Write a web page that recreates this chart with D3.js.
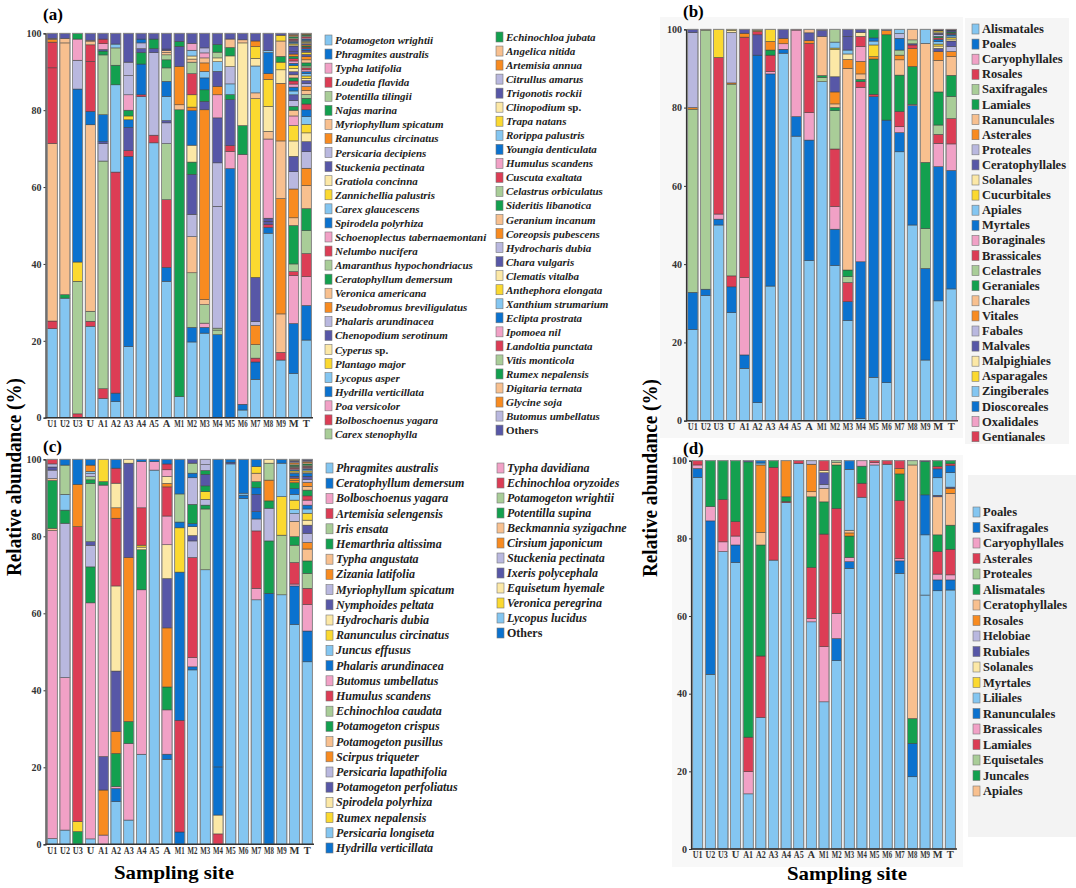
<!DOCTYPE html>
<html>
<head>
<meta charset="utf-8">
<script src="https://cdn.jsdelivr.net/npm/d3@7"></script>
<style>
  body { margin: 0; background: #fff; }
  svg { display: block; font-family: "Liberation Serif", "Times New Roman", serif; }
</style>
</head>
<body>
<div id="vis"></div>
<script>
const WIDTH = 1076;
const HEIGHT = 888;

// ---- data ----
const SITES = ["U1","U2","U3","U","A1","A2","A3","A4","A5","A","M1","M2","M3","M4","M5","M6","M7","M8","M9","M","T"];

const SPECIES_A = ["Potamogeton wrightii","Phragmites australis","Typha latifolia","Loudetia flavida","Potentilla tilingii",
  "Najas marina","Myriophyllum spicatum","Ranunculus circinatus","Persicaria decipiens","Stuckenia pectinata",
  "Gratiola concinna","Zannichellia palustris","Carex glaucescens","Spirodela polyrhiza","Schoenoplectus tabernaemontani",
  "Nelumbo nucifera","Amaranthus hypochondriacus","Ceratophyllum demersum","Veronica americana","Pseudobromus breviligulatus",
  "Phalaris arundinacea","Chenopodium serotinum","Cyperus sp.","Plantago major","Lycopus asper",
  "Hydrilla verticillata","Poa versicolor","Bolboschoenus yagara","Carex stenophylla",
  "Echinochloa jubata","Angelica nitida","Artemisia annua","Citrullus amarus","Trigonotis rockii",
  "Clinopodium sp.","Trapa natans","Rorippa palustris","Youngia denticulata","Humulus scandens",
  "Cuscuta exaltata","Celastrus orbiculatus","Sideritis libanotica","Geranium incanum","Coreopsis pubescens",
  "Hydrocharis dubia","Chara vulgaris","Clematis vitalba","Anthephora elongata","Xanthium strumarium",
  "Eclipta prostrata","Ipomoea nil","Landoltia punctata","Vitis monticola","Rumex nepalensis",
  "Digitaria ternata","Glycine soja","Butomus umbellatus","Others"];

const ORDERS_B = ["Alismatales","Poales","Caryophyllales","Rosales","Saxifragales","Lamiales","Ranunculales",
  "Asterales","Proteales","Ceratophyllales","Solanales","Cucurbitales","Apiales","Myrtales","Boraginales",
  "Brassicales","Celastrales","Geraniales","Charales","Vitales","Fabales","Malvales","Malpighiales",
  "Asparagales","Zingiberales","Dioscoreales","Oxalidales","Gentianales"];

const SPECIES_C = ["Phragmites australis","Ceratophyllum demersum","Bolboschoenus yagara","Artemisia selengensis",
  "Iris ensata","Hemarthria altissima","Typha angustata","Zizania latifolia","Myriophyllum spicatum",
  "Nymphoides peltata","Hydrocharis dubia","Ranunculus circinatus","Juncus effusus","Phalaris arundinacea",
  "Butomus umbellatus","Humulus scandens","Echinochloa caudata","Potamogeton crispus","Potamogeton  pusillus",
  "Scirpus triqueter","Persicaria lapathifolia","Potamogeton perfoliatus","Spirodela polyrhiza","Rumex nepalensis",
  "Persicaria longiseta","Hydrilla verticillata",
  "Typha davidiana","Echinochloa oryzoides","Potamogeton wrightii","Potentilla supina","Beckmannia syzigachne",
  "Cirsium japonicum","Stuckenia pectinata","Ixeris polycephala","Equisetum hyemale","Veronica peregrina",
  "Lycopus lucidus","Others"];

const ORDERS_D = ["Poales","Saxifragales","Caryophyllales","Asterales","Proteales","Alismatales","Ceratophyllales",
  "Rosales","Helobiae","Rubiales","Solanales","Myrtales","Liliales","Ranunculales","Brassicales","Lamiales",
  "Equisetales","Juncales","Apiales"];

// per site, bottom to top: [category index, relative abundance %]
const BARS_A = [
  [[0,23.2],[3,2],[6,46.3],[15,19.7],[27,6.7],[31,0.7],[42,0.3],[57,1.3]],
  [[0,31.1],[5,0.9],[6,65.5],[30,1.2],[57,1.3]],
  [[3,1],[4,34.5],[11,5],[13,45],[20,7.5],[14,5.5],[29,1.5]],
  [[0,23.8],[3,1.3],[4,2.6],[6,48.5],[13,3.5],[15,13],[27,4.3],[30,0.8],[54,0.4],[57,1.8]],
  [[0,5],[3,2.5],[4,59],[8,4.5],[9,0.5],[13,7],[16,15.5],[17,1],[33,0.4],[26,1.5],[39,1.2],[57,1.5]],
  [[0,4.2],[1,2.2],[3,57.5],[12,22.7],[17,5.1],[28,4.5],[36,1],[57,2.8]],
  [[0,18.5],[1,49.5],[3,1.5],[9,6],[13,2],[11,1],[17,1.5],[14,4],[20,5],[32,3.5],[57,7.5]],
  [[0,83.5],[3,0.5],[13,8],[17,3],[21,1],[32,1.5],[37,1],[57,1.5]],
  [[0,71.5],[3,2],[8,21.5],[9,1],[17,2.5],[57,1.5]],
  [[0,35.5],[1,3.6],[3,17.6],[4,14.6],[8,5.4],[9,0.6],[12,6.3],[13,3.9],[16,3.5],[17,2.1],[28,1.3],[30,0.6],[42,0.5],[45,0.4],[57,4.1]],
  [[0,5.5],[5,74.6],[6,1.3],[7,10],[9,5.2],[17,1.3],[57,2.1]],
  [[0,19.7],[1,3.8],[4,14.2],[6,9.4],[8,5.8],[9,10.4],[17,3.2],[10,4.4],[13,9],[7,0.9],[11,3.2],[15,5.5],[16,3],[18,0.8],[22,0.8],[24,1.5],[26,1.8],[57,2.6]],
  [[0,22],[1,1.5],[2,1.1],[4,4.8],[6,1.3],[7,49.4],[9,2.2],[17,3],[13,3.1],[12,1.7],[19,2.2],[18,1.3],[26,1.3],[20,1.3],[57,3.8]],
  [[1,21.6],[4,1.2],[16,0.5],[8,31.7],[20,11.3],[9,11.7],[14,6],[7,2.2],[21,3.9],[12,2.5],[22,1],[28,1.5],[29,2],[57,2.9]],
  [[1,65],[2,4.5],[3,1.5],[9,12],[5,1.3],[12,2.8],[20,4.5],[10,2.8],[17,2.2],[30,2.2],[57,1.5]],
  [[0,2],[1,1.5],[14,65],[17,7.5],[22,21.5],[30,0.8],[57,1.7]],
  [[0,10],[1,4.5],[3,1],[4,3.5],[7,5],[8,1],[9,11.5],[11,46.5],[18,1.5],[12,7],[10,2],[23,3],[19,1.5],[57,2]],
  [[0,48],[1,1.5],[3,0.8],[9,0.8],[21,0.8],[2,20.6],[6,2],[10,6.5],[11,7],[7,1.5],[13,5.5],[24,0.5],[57,4.5]],
  [[0,15],[3,2],[6,10],[7,30],[18,15],[19,15],[10,3.5],[11,2],[17,1.5],[30,4],[23,1.5],[57,0.5]],
  [[0,11.5],[1,13],[2,12.5],[3,1],[4,2],[5,10],[6,2],[7,7.5],[8,4.5],[9,4],[10,4],[11,4],[14,2.5],[18,1.5],[17,1],[20,1.5],[21,1.5],[24,1],[25,1],[26,0.8],[27,0.8],[29,0.8],[30,0.8],[33,0.8],[34,0.8],[35,0.8],[37,0.6],[38,0.6],[39,0.6],[41,0.6],[43,0.6],[45,0.6],[57,1.5],[46,0.3],[47,0.3],[48,0.3],[49,0.3],[50,0.3],[51,0.3],[52,0.3],[53,0.3],[54,0.3],[55,0.3],[56,0.3]],
  [[0,20.2],[1,9],[2,7.5],[3,6],[4,6],[5,5.7],[6,6],[7,4.5],[8,4.3],[9,2.6],[10,2.3],[11,2.2],[12,2],[13,1.8],[15,1.5],[17,1.5],[16,1],[18,1],[19,1],[20,0.8],[21,0.8],[22,0.6],[23,0.6],[24,0.6],[25,0.5],[26,0.5],[27,0.5],[28,0.5],[29,0.8],[30,0.8],[31,0.8],[33,0.6],[35,0.6],[57,0.5],[37,0.4],[39,0.4],[41,0.3],[43,0.3],[45,0.3],[46,0.3],[47,0.3],[48,0.3],[49,0.3],[50,0.3],[51,0.3],[52,0.3],[53,0.3],[55,0.3]]
];

const BARS_B = [
  [[0,23.3],[1,9.5],[4,46.8],[7,0.4],[8,19.2],[21,0.8]],
  [[0,32],[1,1.6],[4,66.2],[6,0.2]],
  [[0,50],[1,1.5],[2,1.3],[3,40],[11,7.2]],
  [[0,27.6],[1,6.6],[3,2.8],[4,49],[7,0.3],[8,12.9],[10,0.5],[11,0.3]],
  [[0,13.4],[1,3.4],[2,19.8],[3,61.4],[7,1],[9,1]],
  [[0,4.6],[1,88.8],[9,5.2],[15,0.8],[7,0.3],[10,0.3]],
  [[0,34.4],[1,54.2],[2,0.6],[3,4.2],[5,1.3],[7,2.2],[11,3.1]],
  [[0,93.9],[1,1],[2,1.4],[7,1.4],[9,2.3]],
  [[0,72.7],[1,5],[2,22.1],[3,0.2]],
  [[0,40.9],[1,30.8],[2,7],[3,17.7],[7,0.7],[9,2],[18,0.9]],
  [[0,86.6],[4,1.1],[5,0.5],[6,10],[9,1.5],[20,0.3]],
  [[0,38.9],[1,9.1],[2,5.7],[3,14.4],[4,9.6],[5,0.8],[6,0.9],[7,3],[9,3.8],[10,6.8],[11,0.4],[12,1.5],[16,3.2]],
  [[0,25.6],[1,4.8],[3,4.9],[4,1.5],[5,1.7],[6,51.5],[7,2.3],[10,1.4],[12,1],[9,3.5],[21,1.8]],
  [[0,0.5],[1,40.1],[2,44.6],[3,1.4],[5,0.6],[6,1.4],[7,3.2],[14,3.8],[15,2.6],[22,1],[21,0.8]],
  [[0,11.1],[1,71.7],[3,0.6],[5,9],[7,0.6],[11,3],[12,1],[13,0.8],[17,2.2]],
  [[0,9.7],[1,67.1],[5,21.8],[7,1.1],[20,0.3]],
  [[0,68.7],[1,4.9],[2,1.5],[3,3.9],[5,9.3],[6,3.9],[7,1.2],[16,1.3],[13,3],[20,1.2],[24,1.1]],
  [[0,50],[1,30.5],[2,0.3],[5,9.7],[7,4.6],[15,0.9],[21,0.3],[16,1],[18,2.7]],
  [[0,15.5],[1,23.4],[4,10.2],[5,16.9],[6,30.4],[12,3.6]],
  [[0,30.8],[1,34.5],[2,6],[3,2.3],[4,2.4],[5,8.5],[6,8.1],[7,2.3],[9,0.8],[10,0.6],[11,0.5],[12,0.6],[13,0.6],[15,0.4],[17,0.4],[20,0.4],[21,0.4],[22,0.3],[23,0.3],[25,0.2],[27,0.2]],
  [[0,33.8],[1,30.4],[2,6.8],[3,6.5],[4,5.7],[5,5.4],[6,4.8],[7,1.3],[8,1.3],[9,1.4],[10,0.5],[11,0.4],[12,0.4],[13,0.4],[15,0.3],[17,0.3],[21,0.3],[25,0.2],[27,0.2]]
];

const BARS_C = [
  [[0,1.5],[2,80],[6,0.6],[5,12.4],[18,0.5],[8,2.2],[9,0.8],[20,0.8],[3,1.2]],
  [[0,3.7],[2,39.6],[8,40.1],[5,3.4],[12,4.1],[4,7.6],[1,1.5]],
  [[5,3.3],[11,2.6],[3,76.6],[7,11],[13,6.5]],
  [[0,1.4],[2,61],[5,9.3],[8,5.6],[9,0.9],[4,15.1],[17,0.9],[16,0.8],[20,0.8],[12,0.6],[7,1.6],[1,1.5]],
  [[2,2.4],[7,11.7],[9,8.7],[14,70.5],[5,0.9],[11,5.8]],
  [[0,11.1],[1,3.4],[2,0.5],[5,8.6],[7,5.7],[9,15.7],[10,22.1],[3,17.6],[19,2.7],[22,6.4],[15,3.9],[13,2.3]],
  [[0,6.3],[2,19.9],[5,5.7],[7,42.6],[9,24.5],[10,1]],
  [[0,23.4],[2,42.7],[5,10.4],[10,0.7],[11,0.5],[3,9.7],[14,12],[1,0.6]],
  [[0,97.2],[2,2.2],[1,0.6]],
  [[0,21.9],[1,1.3],[2,11.4],[5,5.9],[7,15.2],[9,12.7],[10,8.7],[14,7.4],[15,7.5],[19,0.9],[22,1.8],[26,1.7],[27,1.5],[13,1.2]],
  [[1,3.2],[3,29],[13,38.5],[11,11.5],[25,1.5],[4,7.3],[37,9]],
  [[0,45.3],[1,0.8],[2,2.4],[3,26],[8,4.3],[9,1.4],[10,2.3],[13,0.8],[5,5],[20,6.9],[25,1.2],[4,2.6],[21,1]],
  [[0,71.3],[4,15.8],[5,1],[8,1.5],[11,2],[17,1.5],[9,3],[29,1],[20,1.5],[32,1.4]],
  [[3,2.7],[10,4.9],[13,12.5],[25,79.9]],
  [[0,98.8],[9,0.4],[1,0.8]],
  [[0,89.8],[1,0.9],[12,0.5],[13,8.8]],
  [[0,63.5],[2,3],[3,14.9],[8,3.1],[13,1.9],[9,4.5],[25,1.7],[5,1.6],[6,2.2],[11,1.7],[37,1.9]],
  [[1,65.2],[5,13.6],[8,8.5],[17,1.9],[7,5.4],[4,4.4],[10,1]],
  [[0,64.8],[4,15.5],[11,10],[12,8.7],[1,1]],
  [[0,57.1],[1,10],[2,0.5],[3,5.6],[4,4.5],[5,2.2],[6,4],[8,2],[12,1],[11,2.5],[24,1.5],[13,1.5],[17,1.5],[7,0.6],[19,0.6],[21,0.5],[37,0.8],[22,0.3],[23,0.3],[25,0.3],[26,0.3],[27,0.3],[28,0.3],[29,0.3],[30,0.3],[31,0.3],[32,0.3],[33,0.3],[34,0.3]],
  [[0,47.4],[1,8],[2,6.9],[3,4.2],[4,3.9],[5,3.2],[6,3.1],[7,1.7],[8,2.4],[9,2.1],[10,1.3],[11,1.8],[12,1.1],[13,1],[14,1.3],[15,1.1],[17,1.5],[18,1],[19,1],[20,0.8],[21,0.8],[37,0.8],[22,0.3],[23,0.3],[24,0.3],[25,0.3],[26,0.3],[27,0.3],[28,0.3],[29,0.3],[30,0.3],[31,0.3],[32,0.3],[33,0.3]]
];

const BARS_D = [
  [[0,95.7],[1,2.3],[2,0.9],[3,1.1]],
  [[0,45],[1,39.5],[2,3.7],[5,11.8]],
  [[0,76.6],[2,2.5],[3,10.9],[5,10]],
  [[0,73.8],[1,4.5],[2,2.3],[3,3.7],[5,15.7]],
  [[0,14.2],[2,5.7],[3,8.9],[5,70.9],[9,0.3]],
  [[0,33.9],[3,15.8],[5,28.6],[6,3.2],[7,17.4],[12,0.5],[13,0.6]],
  [[0,74.4],[3,23.9],[5,1.7]],
  [[0,89.2],[3,0.3],[5,1.2],[7,9.3]],
  [[0,99.3],[3,0.7]],
  [[0,58.5],[2,0.9],[3,13.1],[5,18.2],[6,1.3],[7,7.1],[8,0.9]],
  [[0,37.9],[2,14.2],[3,29],[5,8.3],[6,3.5],[8,1],[9,3],[10,0.6],[15,2.5]],
  [[0,48.5],[1,5.7],[2,6.5],[3,27],[5,11.2],[6,0.6],[4,0.5]],
  [[0,72.3],[1,1.7],[2,1.1],[5,5.5],[7,0.8],[6,0.7],[12,15.7],[13,2.2]],
  [[0,90.6],[3,3.6],[5,4.4],[2,1.4]],
  [[0,98.9],[2,0.6],[15,0.5]],
  [[0,99.1],[3,0.9]],
  [[0,71],[1,3.2],[2,0.6],[3,14.9],[5,6.9],[7,1.4],[15,2]],
  [[0,18.6],[1,8.6],[5,6.4],[6,65.3],[4,1.1]],
  [[0,65.4],[12,15.5],[13,10.3],[17,8.6],[9,0.2]],
  [[0,66.5],[1,2.8],[2,1.5],[3,5.8],[5,4.3],[6,9.8],[9,0.4],[12,4.5],[13,2.3],[15,0.6],[17,1.5]],
  [[0,66.7],[1,2.6],[2,1.3],[3,6.6],[5,6.2],[6,8.2],[7,1.3],[9,0.3],[12,3.7],[13,1.8],[15,0.5],[17,0.8]]
];

const Y_TICKS = [0, 20, 40, 60, 80, 100];

// 12-colour cycle used by all four panels
const COLORS = ["#84c6f1","#0b72cf","#f1a1c6","#dc3d55","#a9cd98","#13a04f",
                "#f8c08f","#f88b20","#b9b8df","#5757a7","#fce8a6","#fbd930"];

const FONT = '"Liberation Serif", "Times New Roman", serif';

const FRAME = d3.select("#vis")
  .append("svg")
    .attr("width", WIDTH)
    .attr("height", HEIGHT);

FRAME.append("rect").attr("width", WIDTH).attr("height", HEIGHT).attr("fill", "#fff");

// faint grey panels behind (b) and (d)
FRAME.append("rect").attr("x", 660).attr("y", 17).attr("width", 303).attr("height", 421).attr("fill", "#f7f7f7");
FRAME.append("rect").attr("x", 965).attr("y", 18).attr("width", 104).attr("height", 426).attr("fill", "#f5f5f5");
FRAME.append("rect").attr("x", 672).attr("y", 455).attr("width", 291).attr("height", 412).attr("fill", "#f8f8f8");
FRAME.append("rect").attr("x", 968).attr("y", 475).attr("width", 108).attr("height", 362).attr("fill", "#f3f3f3");

function drawPanel(p, bars) {
  const X_SCALE = d3.scaleBand()
    .domain(SITES)
    .range([p.x0, p.x1])
    .paddingInner(0.2)
    .paddingOuter(0.05);

  const Y_SCALE = d3.scaleLinear()
    .domain([0, 100])
    .range([p.yBot, p.yTop]);

  const g = FRAME.append("g");

  SITES.forEach((site, i) => {
    const segs = bars[i];
    const total = d3.sum(segs, (d) => d[1]);
    const vals = segs.map((d) => d[1] * 100 / total);
    const tops = Array.from(d3.cumsum(vals));
    const rows = segs.map((d, j) => ({cat: d[0], y0: tops[j] - vals[j], y1: tops[j]}));

    g.selectAll(null)
      .data(rows)
      .enter()
      .append("rect")
        .attr("x", X_SCALE(site))
        .attr("width", X_SCALE.bandwidth())
        .attr("y", (d) => Y_SCALE(d.y1))
        .attr("height", (d) => Y_SCALE(d.y0) - Y_SCALE(d.y1))
        .attr("fill", (d) => COLORS[d.cat % 12])
        .attr("stroke", "#3c3c3c")
        .attr("stroke-width", 0.5);
  });

  // grey outline round each bar
  g.selectAll(null)
    .data(SITES)
    .enter()
    .append("rect")
      .attr("x", (d) => X_SCALE(d))
      .attr("width", X_SCALE.bandwidth())
      .attr("y", Y_SCALE(100))
      .attr("height", Y_SCALE(0) - Y_SCALE(100))
      .attr("fill", "none")
      .attr("stroke", "#8c8c8c")
      .attr("stroke-width", 0.9);

  const yAxis = g.append("g")
    .attr("transform", `translate(${p.x0 - 1},0)`)
    .call(d3.axisLeft(Y_SCALE).tickValues(Y_TICKS).tickSize(2).tickPadding(2));
  yAxis.select(".domain").attr("stroke", "#333").attr("stroke-width", 1.2);
  yAxis.selectAll(".tick line").attr("stroke", "#333");
  yAxis.selectAll("text")
    .attr("font-family", FONT).attr("font-weight", "bold").attr("font-size", 10).attr("fill", "#333");

  const xAxis = g.append("g")
    .attr("transform", `translate(0,${p.yBot})`)
    .call(d3.axisBottom(X_SCALE).tickSize(0).tickPadding(2));
  xAxis.select(".domain")
    .attr("d", `M${p.x0 - 1},0H${p.x1 + 1}`)
    .attr("stroke", "#333").attr("stroke-width", 1.4);
  // squeeze two-letter site names horizontally so they sit side by side as in the figure
  const room = X_SCALE.step() - 2.8;
  xAxis.selectAll("text")
    .attr("font-family", FONT).attr("font-weight", "bold").attr("font-size", 10.5).attr("fill", "#333")
    .each(function() {
      const w = this.getComputedTextLength();
      if (w > room) d3.select(this).attr("transform", `scale(${room / w},1)`);
    });

  FRAME.append("text")
    .attr("x", p.tagX).attr("y", p.tagY)
    .attr("font-family", FONT).attr("font-weight", "bold").attr("font-size", 17)
    .text(p.tag);
}

function drawLegend(names, from, to, sx, y0, dy, size, italic) {
  const items = names.slice(from, to);
  const g = FRAME.append("g");
  g.selectAll(null)
    .data(items)
    .enter()
    .append("rect")
      .attr("x", sx)
      .attr("y", (d, i) => y0 + i * dy - 5)
      .attr("width", 7)
      .attr("height", 10)
      .attr("fill", (d, i) => COLORS[(from + i) % 12])
      .attr("stroke", "#777")
      .attr("stroke-width", 0.6);

  const t = g.selectAll(null)
    .data(items)
    .enter()
    .append("text")
      .attr("x", sx + 10)
      .attr("y", (d, i) => y0 + i * dy + 4)
      .attr("font-family", FONT)
      .attr("font-weight", "bold")
      .attr("font-size", size)
      .attr("fill", "#222");

  t.each(function(d) {
    const el = d3.select(this);
    if (!italic || d === "Others") { el.text(d); return; }
    if (d.endsWith(" sp.")) {
      el.append("tspan").attr("font-style", "italic").text(d.slice(0, -4) + " ");
      el.append("tspan").text("sp.");
    } else {
      el.append("tspan").attr("font-style", "italic").text(d);
    }
  });
}

drawPanel({x0: 46.5, x1: 312, yTop: 33.3, yBot: 417.7, tag: "(a)", tagX: 43, tagY: 20}, BARS_A);
drawPanel({x0: 687, x1: 957, yTop: 29.3, yBot: 420.7, tag: "(b)", tagX: 683, tagY: 17}, BARS_B);
drawPanel({x0: 46.5, x1: 313, yTop: 459.3, yBot: 844.3, tag: "(c)", tagX: 43, tagY: 452}, BARS_C);
drawPanel({x0: 692, x1: 956, yTop: 460.7, yBot: 849, tag: "(d)", tagX: 683, tagY: 454}, BARS_D);

drawLegend(SPECIES_A, 0, 29, 325, 40, 14.07, 11, true);
drawLegend(SPECIES_A, 29, 58, 496, 37, 14.04, 11, true);
drawLegend(ORDERS_B, 0, 28, 972, 29, 15.1, 12.5, false);
drawLegend(SPECIES_C, 0, 26, 326, 468, 15.2, 12, true);
drawLegend(SPECIES_C, 26, 38, 497, 468, 15.0, 12, true);
drawLegend(ORDERS_D, 0, 19, 973, 512, 15.5, 12.5, false);

// axis titles
[[21, 477], [657, 478]].forEach(([x, y]) => {
  FRAME.append("text")
    .attr("transform", `translate(${x},${y}) rotate(-90)`)
    .attr("text-anchor", "middle")
    .attr("font-family", FONT).attr("font-weight", "bold").attr("font-size", 22)
    .attr("textLength", 198).attr("lengthAdjust", "spacingAndGlyphs")
    .text("Relative abundance (%)");
});
[[174, 879], [847, 880]].forEach(([x, y]) => {
  FRAME.append("text")
    .attr("x", x).attr("y", y)
    .attr("text-anchor", "middle")
    .attr("font-family", FONT).attr("font-weight", "bold").attr("font-size", 19.5)
    .attr("textLength", 120).attr("lengthAdjust", "spacingAndGlyphs")
    .text("Sampling site");
});
</script>
</body>
</html>
